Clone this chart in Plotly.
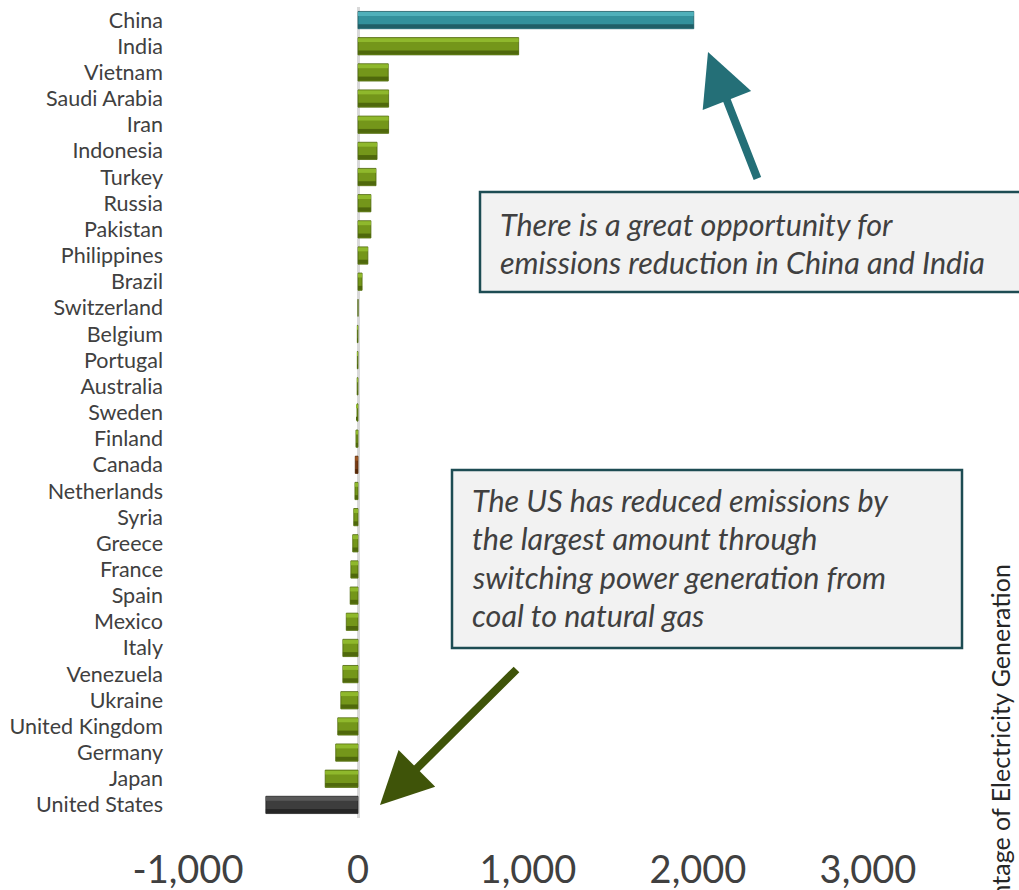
import plotly.graph_objects as go

# Change in CO2 emissions from power generation by country
countries = [
    "China", "India", "Vietnam", "Saudi Arabia", "Iran", "Indonesia", "Turkey",
    "Russia", "Pakistan", "Philippines", "Brazil", "Switzerland", "Belgium",
    "Portugal", "Australia", "Sweden", "Finland", "Canada", "Netherlands",
    "Syria", "Greece", "France", "Spain", "Mexico", "Italy", "Venezuela",
    "Ukraine", "United Kingdom", "Germany", "Japan", "United States",
]
change = [
    1975, 945, 178, 180, 180, 112, 106,
    76, 76, 58, 24, 0, -4,
    -4, -5, -6, -12, -16, -18,
    -25, -31, -42, -46, -69, -89, -89,
    -101, -119, -131, -193, -542,
]
tick_vals = [-1000, 0, 1000, 2000, 3000]
tick_text = ["-1,000", "0", "1,000", "2,000", "3,000"]

W, H = 1019, 890
ML, MR, MT, MB = 170, 0, 7, 72
PW, PH = W - ML - MR, H - MT - MB
ZERO_PX, PX_PER_UNIT = 358, 0.17

def px(x):
    return (x - ML) / PW

def py(y):
    return 1 - (y - MT) / PH

# palette: (face, light facet, dark facet)
TEAL = ("#33919c", "#4fb0ba", "#205f67")
GREEN = ("#74961a", "#8fb82c", "#4f680c")
GRAY = ("#3d3d3d", "#585858", "#262626")
BROWN = ("#7a3b12", "#9c5622", "#552808")

def palette(name):
    if name == "China":
        return TEAL
    if name == "United States":
        return GRAY
    if name == "Canada":
        return BROWN
    return GREEN

pals = [palette(c) for c in countries]

fig = go.Figure()
fig.add_trace(go.Bar(
    y=countries, x=change, orientation="h", width=0.66,
    marker=dict(color=[p[0] for p in pals],
                line=dict(color=[p[2] for p in pals], width=0.8)),
    hoverinfo="skip",
))
fig.add_trace(go.Bar(
    y=countries, x=change, orientation="h", width=0.15, offset=-0.31,
    marker=dict(color=[p[1] for p in pals], line=dict(width=0)),
    hoverinfo="skip",
))
fig.add_trace(go.Bar(
    y=countries, x=change, orientation="h", width=0.15, offset=0.16,
    marker=dict(color=[p[2] for p in pals], line=dict(width=0)),
    hoverinfo="skip",
))

x_min = -(ZERO_PX - ML) / PX_PER_UNIT
x_max = (W - MR - ZERO_PX) / PX_PER_UNIT

fig.update_layout(
    width=W, height=H,
    margin=dict(l=ML, r=MR, t=MT, b=MB, pad=0, autoexpand=False),
    paper_bgcolor="white", plot_bgcolor="white",
    barmode="overlay", showlegend=False,
    font=dict(family="Lato", color="#404040"),
    xaxis=dict(
        range=[x_min, x_max], tickvals=tick_vals, ticktext=tick_text,
        showgrid=False, showline=False, zeroline=True,
        zerolinecolor="#d9d9d9", zerolinewidth=3,
        tickfont=dict(size=38, color="#404040"), ticklabelstandoff=26,
        automargin=False, fixedrange=True,
    ),
    yaxis=dict(
        autorange="reversed", showgrid=False, showline=False, zeroline=False,
        tickfont=dict(size=21.5, color="#404040"), ticklabelstandoff=6,
        automargin=False, fixedrange=True,
    ),
)

# callout boxes
BOX_LINE = "#1d4c53"
fig.add_shape(type="rect", xref="paper", yref="paper",
              x0=px(480), x1=px(1040), y0=py(192), y1=py(292),
              fillcolor="#f2f2f2", line=dict(color=BOX_LINE, width=2.5))
fig.add_shape(type="rect", xref="paper", yref="paper",
              x0=px(452), x1=px(962), y0=py(470), y1=py(648),
              fillcolor="#f2f2f2", line=dict(color=BOX_LINE, width=2.5))

note_china = ["There is a great opportunity for",
              "emissions reduction in China and India"]
note_us = ["The US has reduced emissions by",
           "the largest amount through",
           "switching power generation from",
           "coal to natural gas"]

def add_lines(lines, x0, y_centres):
    for text, yc in zip(lines, y_centres):
        fig.add_annotation(
            xref="paper", yref="paper", x=px(x0), y=py(yc),
            xanchor="left", yanchor="middle", showarrow=False,
            text=f"<i>{text}</i>",
            font=dict(family="Lato", size=30.5, color="#404040"),
        )

add_lines(note_china, 498, [224, 262])
add_lines(note_us, 470, [500, 538, 577, 615])

# arrows pointing at the leading and trailing countries
fig.add_annotation(
    xref="paper", yref="paper", x=px(708), y=py(52),
    axref="pixel", ayref="pixel", ax=758 - 708, ay=180 - 52,
    showarrow=True, arrowhead=2, arrowsize=1.3, arrowwidth=8,
    arrowcolor="#246f77", standoff=0, text="",
)
fig.add_annotation(
    xref="paper", yref="paper", x=px(380), y=py(805),
    axref="pixel", ayref="pixel", ax=518 - 380, ay=668 - 805,
    showarrow=True, arrowhead=2, arrowsize=1.3, arrowwidth=8,
    arrowcolor="#3f5409", standoff=0, text="",
)

# secondary axis title, running off the edge of the page
fig.add_annotation(
    xref="paper", yref="paper", x=px(999), y=py(563),
    xanchor="center", yanchor="top", textangle=-90, showarrow=False,
    text="Percentage of Electricity Generation",
    font=dict(family="Lato", size=25, color="#262626"),
)

fig.write_html("out.html")
